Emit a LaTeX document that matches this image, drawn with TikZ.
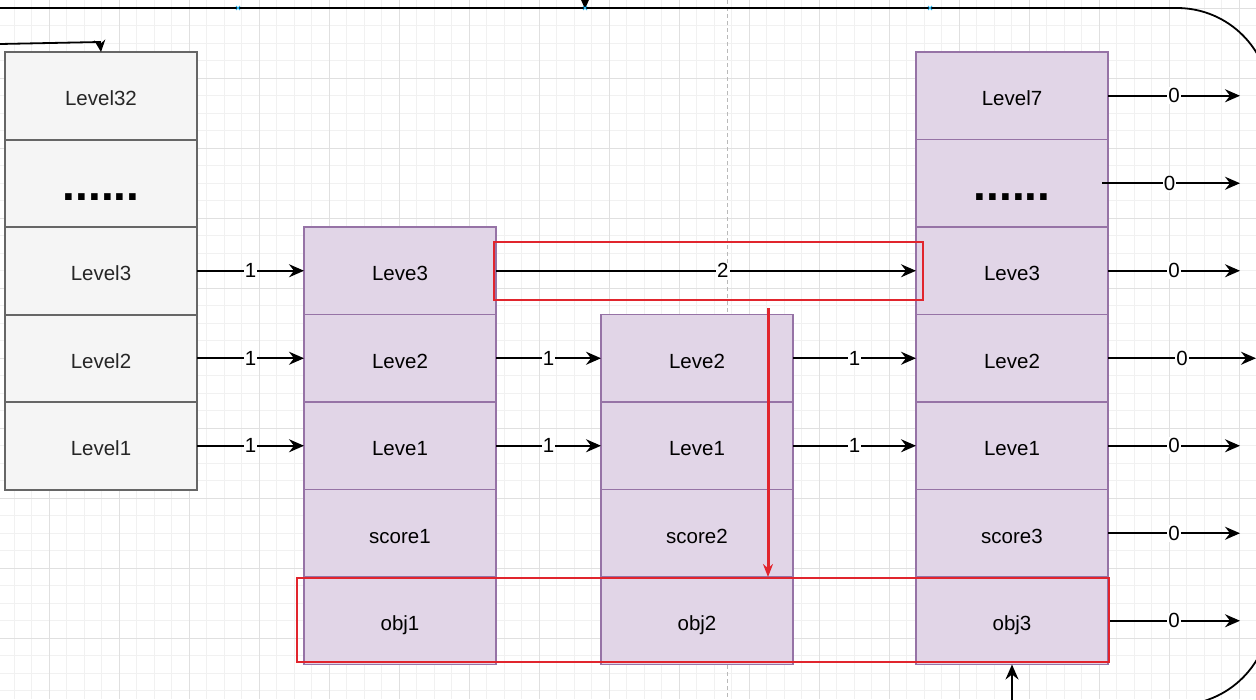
\documentclass[tikz,border=0pt]{standalone}
\usepackage{fontspec}
\setmainfont{Liberation Sans}
\usetikzlibrary{positioning, arrows.meta}

\begin{document}
\begin{tikzpicture}[x=1pt, y=-1pt, node distance=0pt]
    % Define colours
    \definecolor{greyBorder}{HTML}{666666}
    \definecolor{greyFill}{HTML}{F5F5F5}
    \definecolor{purpleBorder}{HTML}{9673A6}
    \definecolor{purpleFill}{HTML}{E1D5E7}
    \definecolor{markRed}{HTML}{E1252D}
    \definecolor{gridMinor}{HTML}{F1F1F1}
    \definecolor{gridMajor}{HTML}{E0E0E0}
    \definecolor{handleBlue}{HTML}{29B6F2}

    % Define styles
    \tikzset{
        cell/.style={rectangle, outer sep=0pt, minimum width=192pt, minimum height=87.5pt,
            text height=20pt, text depth=0pt, font=\fontsize{20.5}{24}\selectfont},
        greycell/.style={cell, draw=greyBorder, fill=greyFill, line width=2pt, text=black!85},
        purplecell/.style={cell, draw=purpleBorder, fill=purpleFill, line width=1.7pt},
        link/.style={line width=1.8pt, -{Stealth[length=15pt, width=13pt, inset=5pt]}},
        num/.style={fill=white, inner sep=1pt, font=\fontsize{20.5}{24}\selectfont},
        dotstext/.style={font=\fontsize{46}{46}\selectfont\bfseries, inner sep=0pt, anchor=base},
        hilite/.style={draw=markRed, line width=2.4pt},
        dropline/.style={draw=markRed, line width=3pt, -{Stealth[length=13pt, width=10pt]}},
    }

    % Page and background grid
    \useasboundingbox (0,0) rectangle (1256,699);
    \fill[white] (0,0) rectangle (1256,699);
    \clip (0,0) rectangle (1256,699);
    \foreach \gx in {0,...,71}
        \draw[gridMinor, line width=0.8pt] ({14.3+17.5*\gx},0) -- ++(0,699);
    \foreach \gy in {0,...,39}
        \draw[gridMinor, line width=0.8pt] (0,{8.3+17.5*\gy}) -- ++(1256,0);
    \foreach \gx in {0,...,17}
        \draw[gridMajor, line width=0.8pt] ({49.3+70*\gx},0) -- ++(0,699);
    \foreach \gy in {0,...,9}
        \draw[gridMajor, line width=0.8pt] (0,{8.3+70*\gy}) -- ++(1256,0);
    \draw[gray!55, line width=0.7pt, dash pattern=on 4pt off 3pt] (727,0) -- (727,699);

    % Draw the outer loop line
    \coordinate (loopIn) at (0,8);
    \coordinate (loopOut) at (1150,705);
    \draw[line width=1.8pt, rounded corners=93pt] (loopIn) -- (1270,8) -- (1270,705) -- (loopOut);

    % Draw the head column
    \node[greycell] (g32) at (101,95.75) {Level32};
    \node[greycell, below=of g32] (gdots) {};
    \node[greycell, below=of gdots] (g3) {Level3};
    \node[greycell, below=of g3] (g2) {Level2};
    \node[greycell, below=of g2] (g1) {Level1};
    \node[dotstext] (gdotsText) at ([yshift=-17pt]gdots.center) {......};

    % Draw the first element
    \node[purplecell] (a3) at (400,270.75) {Leve3};
    \node[purplecell, below=of a3] (a2) {Leve2};
    \node[purplecell, below=of a2] (a1) {Leve1};
    \node[purplecell, below=of a1] (ascore) {score1};
    \node[purplecell, below=of ascore] (aobj) {obj1};

    % Draw the second element
    \node[purplecell] (b2) at (697,358.25) {Leve2};
    \node[purplecell, below=of b2] (b1) {Leve1};
    \node[purplecell, below=of b1] (bscore) {score2};
    \node[purplecell, below=of bscore] (bobj) {obj2};

    % Draw the third element
    \node[purplecell] (c7) at (1012,95.75) {Level7};
    \node[purplecell, below=of c7] (cdots) {};
    \node[purplecell, below=of cdots] (c3) {Leve3};
    \node[purplecell, below=of c3] (c2) {Leve2};
    \node[purplecell, below=of c2] (c1) {Leve1};
    \node[purplecell, below=of c1] (cscore) {score3};
    \node[purplecell, below=of cscore] (cobj) {obj3};
    \node[dotstext] (cdotsText) at ([yshift=-17pt]cdots.center) {......};

    % Forward pointers with their spans
    \foreach \s/\t in {g3/a3, g2/a2, g1/a1, a2/b2, a1/b1, b2/c2, b1/c1}
        \draw[link] (\s) -- (\t) node[num, midway] {1};
    \draw[link] (a3) -- (c3) node[num, pos=0.54] {2};

    % Pointers of the last element
    \foreach \n in {c7, c3, c1, cscore, cobj}
        \draw[link] (\n.east) -- ++(132,0) node[num, midway] {0};
    \draw[link] ([xshift=-6pt]cdots.east) -- ++(138,0) node[num, pos=0.49] {0};
    \draw[link] (c2.east) -- ++(148,0) node[num, midway] {0};

    % Entry arrows
    \coordinate (feedIn) at (0,44);
    \draw[line width=1.8pt, -{Stealth[length=12pt, width=11pt, inset=4pt]}] (feedIn) -- (100,42) -- (g32.north);
    \draw[link] (loopOut) -| (cobj.south);
    \draw[link] (585,-6) -- (585,9);
    \foreach \hx in {238,585,930}
        \draw[handleBlue, line width=0.8pt] (\hx-2,6) -- (\hx+2,10) (\hx-2,10) -- (\hx+2,6);

    % Highlight the search path
    \draw[hilite] (494,242) rectangle (923,300);
    \draw[hilite] (297,578) rectangle (1109,662);
    \coordinate (dropTop) at (768,308);
    \draw[dropline] (dropTop) -- (dropTop |- aobj.north);
\end{tikzpicture}
\end{document}
